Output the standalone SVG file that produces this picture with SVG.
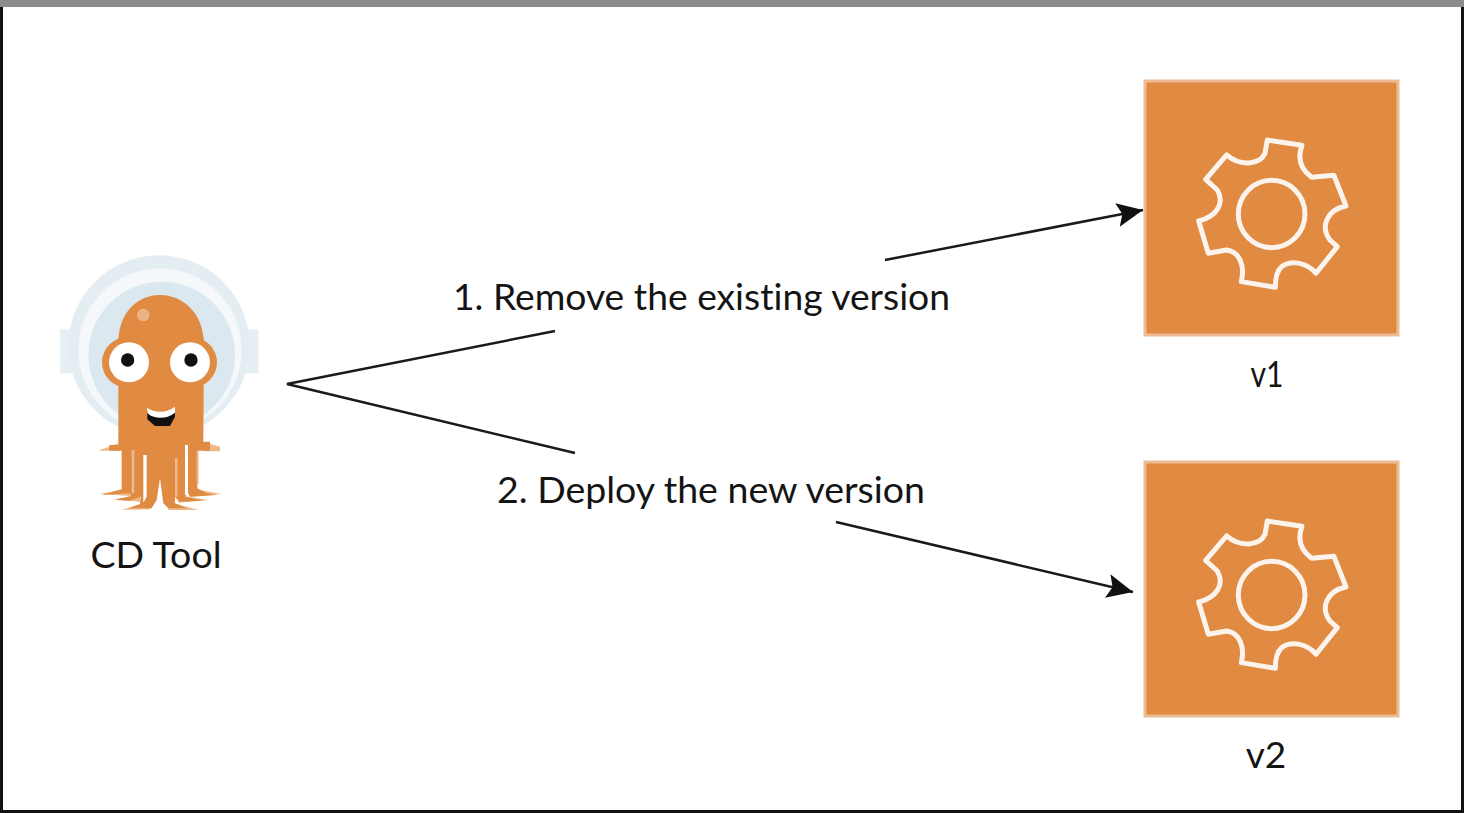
<svg xmlns="http://www.w3.org/2000/svg" width="1464" height="813" viewBox="0 0 1464 813">
<style>
.t{font-family:"Lato","Noto Sans",sans-serif;font-size:37px;fill:#141414;font-variant-ligatures:none}
.box{fill:#e08a42;stroke:#ecbc94;stroke-width:3}
.gear{fill:none;stroke:#fbf3ec;stroke-width:15;stroke-linejoin:round}
.ln{fill:none;stroke:#1a1a1a;stroke-width:2.500}
.o{fill:#e08a42}
.p{fill:#ecb88c}
.e{fill:#fff}
.k{fill:#111}
</style>
<defs>
<marker id="a" markerUnits="userSpaceOnUse" markerWidth="30" markerHeight="30" refX="26" refY="13" orient="auto"><path d="M0 1L26 13L0 25L5 13Z" fill="#111"/></marker>
<g id="svc">
<rect class="box" x="1145" y="81" width="253" height="254"/>
<g transform="translate(1130 70) scale(.3333)">
<path class="gear" d="M412 210L516 226C500 270 515 300 545 322L612 316L648 408C590 420 570 470 600 510L622 530L558 610C530 575 480 570 455 590C438 605 436 630 436 652L334 635C345 590 330 545 290 540L235 550L206 453C260 440 285 400 262 360L227 328L290 255C330 290 390 285 405 250Z"/>
<ellipse class="gear" cx="425" cy="432" rx="100" ry="101"/>
</g>
</g>
</defs>
<rect width="1464" height="813" fill="#fff"/>
<g id="frame">
<rect x="1.500" y="4" width="1461" height="807.500" fill="none" stroke="#111" stroke-width="3"/>
<rect x="0" y="0" width="1464" height="7" fill="#8b8b8b"/>
</g>
<g id="cd-tool">
<g transform="translate(40 240) scale(.3333)">
<rect x="60" y="268" width="40" height="132" fill="#e6eff4"/>
<rect x="615" y="268" width="40" height="132" fill="#e6eff4"/>
<circle cx="357" cy="318" r="272" fill="#e3edf2"/>
<circle cx="360" cy="330" r="245" fill="#f4f8fa"/>
<circle cx="365" cy="345" r="220" fill="#dbe8ef"/>
<path class="p" d="M175 632L235 610V632ZM490 605L540 620V634H490ZM178 762L270 745V768ZM450 745L545 762L450 770ZM222 778L300 765V785ZM415 765L505 780L415 788ZM245 810L330 785V808ZM385 785L475 810H385Z"/>
<path class="o" d="M235 310C235 220 290 165 360 165C430 165 490 220 492 310L490 605H510V632H472V745L500 760L530 765L450 770L445 760L435 770L490 782L418 785L405 770L405 790L440 805L385 805L370 790L360 715L350 780L335 805L265 805L300 792L302 770L270 782L225 780L272 768L270 760L185 765L245 748V632H208V615H235Z"/>
<path class="e" d="M310 645h10v125l-10 18zM435 615h9v150h-9z"/>
<path class="p" d="M275 630h8v130h-8zM405 655h8v115h-8zM470 632h6v100h-6z"/>
<circle cx="310" cy="225" r="19" fill="#ebb284"/>
<circle class="o" cx="262" cy="367" r="76"/>
<circle class="o" cx="455" cy="367" r="76"/>
<circle class="e" cx="267" cy="367" r="60"/>
<circle class="e" cx="450" cy="367" r="60"/>
<circle class="k" cx="263" cy="360" r="20"/>
<circle class="k" cx="453" cy="360" r="20"/>
<path class="k" d="M322 520C345 530 380 530 405 515V530L390 558H345L322 538Z"/>
<path class="e" d="M320 503C345 520 380 520 405 500V518C380 538 345 538 325 522Z"/>
</g>
<text class="t" x="156" y="568" text-anchor="middle" textLength="131" lengthAdjust="spacingAndGlyphs">CD Tool</text>
</g>
<g id="v1"><use href="#svc"/><text class="t" x="1267" y="387" text-anchor="middle" textLength="33" lengthAdjust="spacingAndGlyphs">v1</text></g>
<g id="v2"><use href="#svc" y="381"/><text class="t" x="1266" y="768" text-anchor="middle">v2</text></g>
<g id="connectors">
<path class="ln" d="M555 331L287 384L575 453"/>
<path class="ln" marker-end="url(#a)" d="M885 260L1143 210"/>
<path class="ln" marker-end="url(#a)" d="M836 522L1133 592"/>
</g>
<text class="t" x="453" y="310" textLength="497" lengthAdjust="spacingAndGlyphs">1. Remove the existing version</text>
<text class="t" x="497" y="503" textLength="428" lengthAdjust="spacingAndGlyphs">2. Deploy the new version</text>
</svg>
